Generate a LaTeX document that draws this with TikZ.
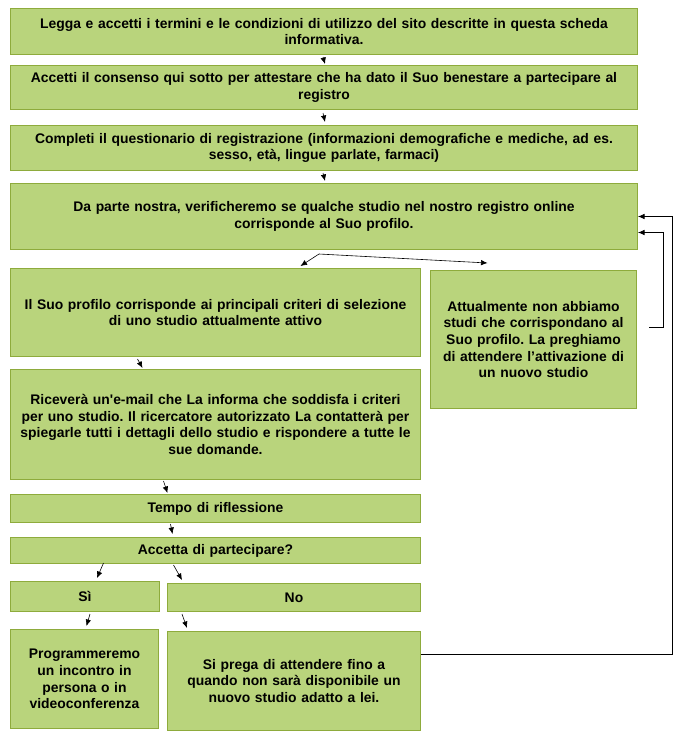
\documentclass[tikz,border=0pt]{standalone}
\usepackage{fontspec}
\newfontfamily\boxfont{Liberation Sans}
\usepackage{xcolor}
\usepackage{tikz}
\usetikzlibrary{positioning, arrows.meta, calc}
\definecolor{boxfill}{HTML}{B9D47C}
\definecolor{boxline}{HTML}{8EAB3C}
\frenchspacing

\tikzset{
  stepbox/.style={draw=boxline, fill=boxfill, line width=1pt, anchor=north west,
    align=center, inner xsep=3pt, inner ysep=2pt,
    font=\boxfont\fontsize{13.9}{16.6}\selectfont\bfseries},
  arr/.style={-{Latex[length=6.5pt, width=5.5pt]}, line width=0.6pt, black},
}

\begin{document}
\begin{tikzpicture}[x=1pt, y=-1pt]
    \useasboundingbox (0,0) rectangle (689,734);
    \node[stepbox, minimum width=627pt, minimum height=46pt, text width=619pt] (legga) at (10,8)
      {Legga e accetti i termini e le condizioni di utilizzo del sito descritte in questa scheda\\informativa.};
    \node[stepbox, minimum width=627pt, minimum height=44pt, text width=619pt] (consenso) at (10,65)
      {Accetti il consenso qui sotto per attestare che ha dato il Suo benestare a partecipare al\\registro};
    \node[stepbox, minimum width=627pt, minimum height=45pt, text width=619pt] (questionario) at (10,125)
      {Completi il questionario di registrazione (informazioni demografiche e mediche, ad es.\\sesso, età, lingue parlate, farmaci)};
    \node[stepbox, minimum width=627pt, minimum height=66pt, text width=619pt] (verifica) at (10,183)
      {Da parte nostra, verificheremo se qualche studio nel nostro registro online\\corrisponde al Suo profilo.};
    \node[stepbox, minimum width=410pt, minimum height=88pt, text width=402pt] (profilo) at (10,268)
      {Il Suo profilo corrisponde ai principali criteri di selezione\\di uno studio attualmente attivo};
    \node[stepbox, minimum width=206pt, minimum height=138pt, text width=200pt] (nessuno) at (430,270)
      {Attualmente non abbiamo\\studi che corrispondano al\\Suo profilo. La preghiamo\\di attendere l’attivazione di\\un nuovo studio};
    \node[stepbox, minimum width=410pt, minimum height=110pt, text width=402pt] (email) at (10,369)
      {Riceverà un'e-mail che La informa che soddisfa i criteri\\per uno studio. Il ricercatore autorizzato La contatterà per\\spiegarle tutti i dettagli dello studio e rispondere a tutte le\\sue domande.};
    \node[stepbox, minimum width=410pt, minimum height=28pt, text width=402pt] (tempo) at (10,494)
      {Tempo di riflessione};
    \node[stepbox, minimum width=410pt, minimum height=26pt, text width=402pt] (accetta) at (10,537)
      {Accetta di partecipare?};
    \node[stepbox, minimum width=149pt, minimum height=30pt, text width=141pt] (si) at (10,581)
      {Sì};
    \node[stepbox, minimum width=253pt, minimum height=28pt, text width=245pt] (no) at (167,583)
      {No};
    \node[stepbox, minimum width=148pt, minimum height=99pt, text width=140pt] (incontro) at (10,629)
      {Programmeremo\\un incontro in\\persona o in\\videoconferenza};
    \node[stepbox, minimum width=253pt, minimum height=99pt, text width=245pt] (attesa) at (167,631)
      {Si prega di attendere fino a\\quando non sarà disponibile un\\nuovo studio adatto a lei.};

    \draw[arr] ([xshift=-1pt, yshift=-2pt]legga.south) -- ([xshift=1pt, yshift=1pt]consenso.north);
    \draw[arr] ([xshift=-1pt, yshift=-3pt]consenso.south) -- ([xshift=1pt, yshift=3pt]questionario.north);
    \draw[arr] ([xshift=-1pt, yshift=-2pt]questionario.south) -- ([xshift=1pt, yshift=2pt]verifica.north);
    \draw[arr] ([xshift=-5pt, yshift=-4pt]verifica.south) -- ([xshift=85pt, yshift=2pt]profilo.north);
    \draw[arr] ([xshift=-5pt, yshift=-4pt]verifica.south) -- ([xshift=-46pt, yshift=7pt]nessuno.north);
    \draw[arr] ([xshift=12pt, yshift=12pt]nessuno.east) -| ([xshift=25pt, yshift=-16pt]verifica.east) -- ([yshift=-16pt]verifica.east);
    \draw[arr] ([yshift=27pt]attesa.east) -| ([xshift=34pt]verifica.east) -- (verifica.east);
    \draw[arr] ([xshift=-78pt, yshift=-2pt]profilo.south) -- ([xshift=-73pt, yshift=1pt]email.north);
    \draw[arr] ([xshift=-52pt, yshift=-1pt]email.south) -- ([xshift=-48pt, yshift=1pt]tempo.north);
    \draw[arr] ([xshift=-45pt, yshift=-1pt]tempo.south) -- ([xshift=-43pt, yshift=3pt]accetta.north);
    \draw[arr] ([xshift=-112pt, yshift=1pt]accetta.south) -- ([xshift=12pt, yshift=3pt]si.north);
    \draw[arr] ([xshift=-42pt, yshift=-1pt]accetta.south) -- ([xshift=-112pt, yshift=3pt]no.north);
    \draw[arr] ([xshift=5pt, yshift=-2pt]si.south) -- ([xshift=2pt, yshift=3pt]incontro.north);
    \draw[arr] ([xshift=-112pt, yshift=-2pt]no.south) -- ([xshift=-107pt, yshift=3pt]attesa.north);
  \end{tikzpicture}
\end{document}
